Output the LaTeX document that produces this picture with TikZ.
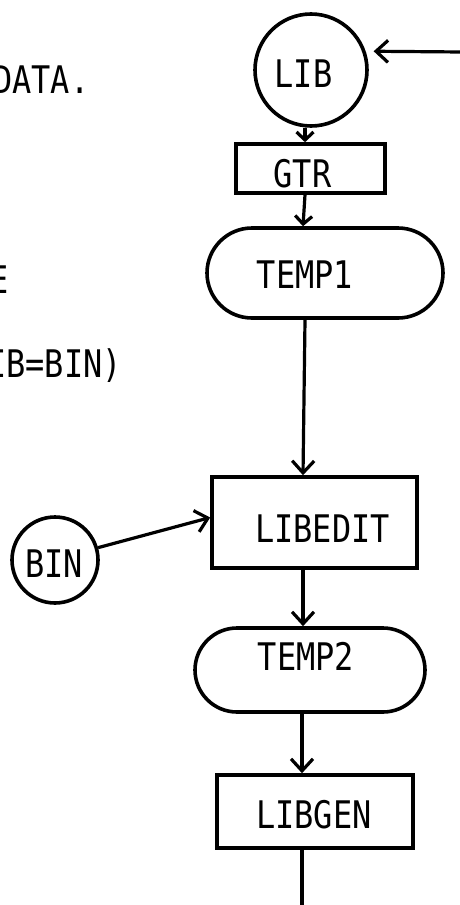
\documentclass[tikz,border=0pt]{standalone}
\usepackage{fontspec}
\newfontfamily\tw[FakeStretch=0.84]{DejaVu Sans Mono}
\usetikzlibrary{arrows.meta,shapes.misc,calc}
\tikzset{
  shapeline/.style={draw=black, line width=3.6pt, inner sep=0pt},
  boxnode/.style={shapeline, rectangle},
  circnode/.style={shapeline, circle},
  stadium/.style={shapeline, rounded rectangle},
  txt/.style={font=\tw\fontsize{38}{40}\selectfont, inner sep=0pt, anchor=base},
  lefttxt/.style={txt, anchor=base west},
  conn/.style={draw=black, line width=3.2pt, -{Straight Barb[length=12pt,width=22pt,line width=3.2pt]}},
  smallconn/.style={draw=black, line width=3.2pt, -{Straight Barb[length=8pt,width=17pt,line width=3.2pt]}},
  plain/.style={draw=black, line width=3.2pt}
}
\begin{document}
\begin{tikzpicture}[x=1pt,y=-1pt]
\path[fill=white, use as bounding box] (0,0) rectangle (459,905);
% left margin text (cut at left edge, as in the reference)
\node[lefttxt] (data) at (-7,93) {DATA.};
\node[lefttxt] (etxt) at (-11,293) {E};
\node[lefttxt] (libbin) at (-13,377) {IB=BIN)};
% shapes
\node[circnode, minimum size=112pt] (lib) at (311,70) {};
\node[boxnode, minimum width=149pt, minimum height=49pt] (gtr) at (310.5,168.5) {};
\node[stadium, minimum width=236pt, minimum height=90pt] (temp1) at (325,273) {};
\node[boxnode, minimum width=205pt, minimum height=91pt] (libedit) at (314.5,522.5) {};
\node[circnode, minimum size=86pt] (bin) at (55,560) {};
\node[stadium, minimum width=230pt, minimum height=84pt] (temp2) at (310,670) {};
\node[boxnode, minimum width=196pt, minimum height=73pt] (libgen) at (315,811.5) {};
% texts
\node[txt] (tlib) at (303.5,87) {LIB};
\node[txt] (tgtr) at (302.5,187) {GTR};
\node[txt] (ttemp1) at (305,288) {TEMP1};
\node[txt] (tlibedit) at (322.5,542) {LIBEDIT};
\node[txt] (tbin) at (54,577) {BIN};
\node[txt] (ttemp2) at (306,670) {TEMP2};
\node[txt] (tlibgen) at (314,828) {LIBGEN};
% coordinates
\coordinate (spine) at (305,0);
\coordinate (spineb) at (303,0);
\coordinate (in) at (462,52);
\coordinate (out) at (302,910);
% connectors
\draw[conn, shorten >=8pt] (in) -- (lib.19);
\draw[smallconn] (lib.south -| spine) -- (gtr.north -| spine);
\draw[smallconn] (gtr.south -| spine) -- (temp1.north -| spineb);
\draw[conn] (temp1.south -| spine) -- (libedit.north -| spineb);
\draw[conn] (bin.16) -- ($(libedit.west)+(0,-5)$);
\draw[conn] (libedit.south -| spineb) -- (temp2.north -| spineb);
\draw[conn] (temp2.south -| out) -- (libgen.north -| out);
\draw[plain] (libgen.south -| out) -- (out);
\end{tikzpicture}
\end{document}
